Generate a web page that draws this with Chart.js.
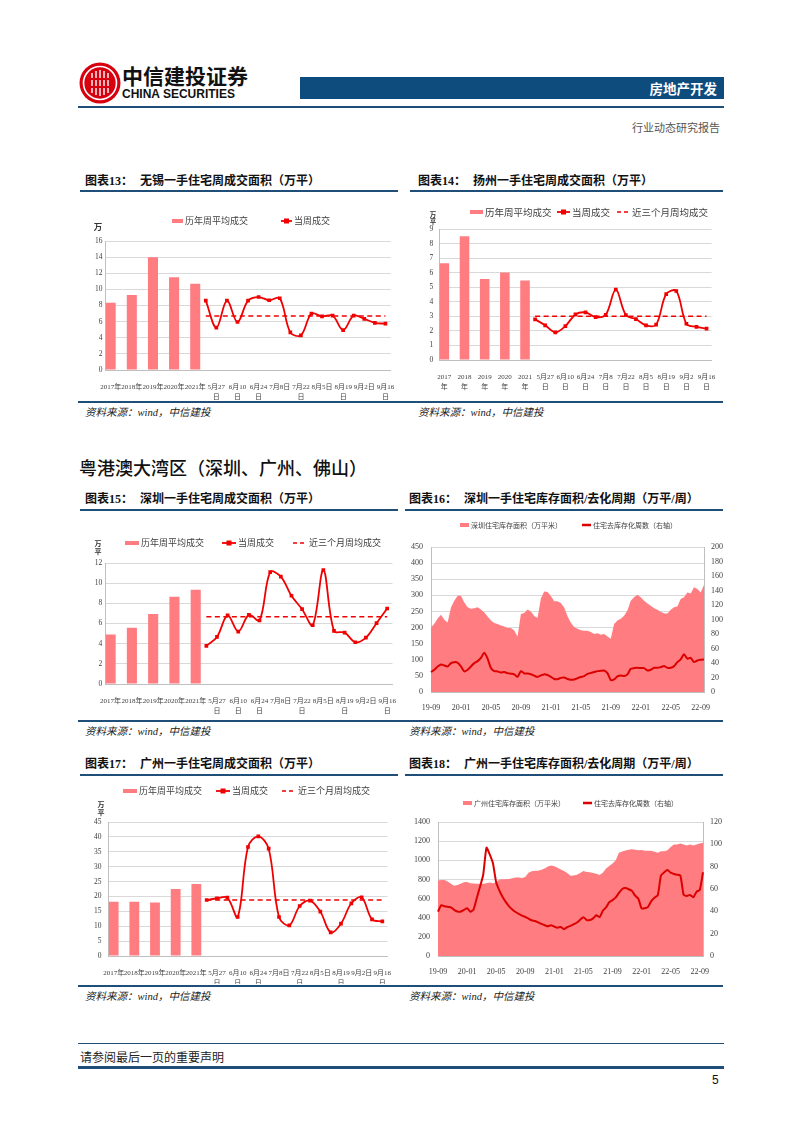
<!DOCTYPE html>
<html>
<head>
<meta charset="utf-8">
<script src="https://cdn.jsdelivr.net/npm/chart.js@4.4.0/dist/chart.umd.min.js"></script>
<style>
  body { margin: 0; background: #fff; }
  #page { position: relative; width: 802px; height: 1133px; overflow: hidden; background: #fff;
          font-family: "Noto Sans CJK SC", sans-serif; color: #111; }
  .t { position: absolute; white-space: nowrap; }
  .hr { position: absolute; background: #1f4e79; }
  .ttl { font-size: 12px; font-weight: bold; line-height: 16px; font-family: "Liberation Serif", "Noto Sans CJK SC", serif; }
  .ttl span { display: inline-block; width: 55px; }
  .src { font-size: 10.5px; font-style: italic; line-height: 14px; color: #222; font-family: "Liberation Serif", "Noto Sans CJK SC", serif; }
  canvas { position: absolute; }
</style>
</head>
<body>
<div id="page">
  <!-- header -->
  <svg style="position:absolute;left:79px;top:62px" width="42" height="42" viewBox="0 0 42 42">
    <circle cx="21" cy="21" r="20.5" fill="#d7000f"/>
    <circle cx="21" cy="21" r="16.5" fill="none" stroke="#fff" stroke-width="1.6"/>
    <path d="M13 11 V31 M17 9 V33 M21 8 V34 M25 9 V33 M29 11 V31" stroke="#fff" stroke-width="1.4" fill="none"/>
    <path d="M10 17 H32 M10 25 H32" stroke="#d7000f" stroke-width="2.2" fill="none"/>
  </svg>
  <div class="t" style="left:122px;top:63px;font-size:21px;font-weight:bold;line-height:24px;">中信建投证券</div>
  <div class="t" style="left:122px;top:87px;font-size:12px;font-weight:bold;line-height:14px;font-family:'Liberation Sans',sans-serif;">CHINA SECURITIES</div>
  <div class="hr" style="left:300px;top:77px;width:424px;height:22px;background:#0e4c7e;"></div>
  <div class="t" style="left:600px;width:117px;text-align:right;top:80px;font-size:13.5px;font-weight:bold;line-height:16px;color:#fff;">房地产开发</div>
  <div class="hr" style="left:78px;top:106px;width:646px;height:1.5px;"></div>
  <div class="t" style="left:600px;width:120px;text-align:right;top:119px;font-size:11px;line-height:16px;color:#555;">行业动态研究报告</div>

  <!-- row 1 -->
  <div class="t ttl" style="left:85px;top:173px;"><span>图表13：</span>无锡一手住宅周成交面积（万平）</div>
  <div class="t ttl" style="left:418px;top:173px;"><span>图表14：</span>扬州一手住宅周成交面积（万平）</div>
  <div class="hr" style="left:80px;top:190px;width:318px;height:1.5px;"></div>
  <div class="hr" style="left:410px;top:190px;width:313px;height:1.5px;"></div>
  <div class="hr" style="left:78px;top:401px;width:645px;height:1.5px;"></div>
  <div class="t src" style="left:85px;top:406px;">资料来源：wind，中信建投</div>
  <div class="t src" style="left:418px;top:406px;">资料来源：wind，中信建投</div>

  <div class="t" style="left:79px;top:456px;font-size:18px;font-weight:500;line-height:22px;">粤港澳大湾区（深圳、广州、佛山）</div>

  <!-- row 2 -->
  <div class="t ttl" style="left:85px;top:491px;"><span>图表15：</span>深圳一手住宅周成交面积（万平）</div>
  <div class="t ttl" style="left:409px;top:491px;"><span>图表16：</span>深圳一手住宅库存面积/去化周期（万平/周）</div>
  <div class="hr" style="left:80px;top:509px;width:318px;height:1.5px;"></div>
  <div class="hr" style="left:405px;top:509px;width:318px;height:1.5px;"></div>
  <div class="hr" style="left:78px;top:720px;width:645px;height:1.5px;"></div>
  <div class="t src" style="left:85px;top:725px;">资料来源：wind，中信建投</div>
  <div class="t src" style="left:409px;top:725px;">资料来源：wind，中信建投</div>

  <!-- row 3 -->
  <div class="t ttl" style="left:85px;top:756px;"><span>图表17：</span>广州一手住宅周成交面积（万平）</div>
  <div class="t ttl" style="left:409px;top:756px;"><span>图表18：</span>广州一手住宅库存面积/去化周期（万平/周）</div>
  <div class="hr" style="left:80px;top:774px;width:318px;height:1.5px;"></div>
  <div class="hr" style="left:405px;top:774px;width:318px;height:1.5px;"></div>
  <div class="hr" style="left:78px;top:985px;width:645px;height:1.5px;"></div>
  <div class="t src" style="left:85px;top:990px;">资料来源：wind，中信建投</div>
  <div class="t src" style="left:409px;top:990px;">资料来源：wind，中信建投</div>

  <!-- footer -->
  <div class="hr" style="left:78px;top:1043px;width:646px;height:1px;"></div>
  <div class="t" style="left:80px;top:1049px;font-size:12px;line-height:16px;color:#222;">请参阅最后一页的重要声明</div>
  <div class="hr" style="left:78px;top:1066px;width:646px;height:3px;"></div>
  <div class="t" style="left:712px;top:1072px;font-size:12px;line-height:16px;font-family:'Liberation Sans',sans-serif;">5</div>
</div>

<script>
// 周成交图的分类
const years = ['2017年', '2018年', '2019年', '2020年', '2021年'];
const weeks = ['5月20日', '5月27日', '6月3日', '6月10日', '6月17日', '6月24日', '7月1日', '7月8日', '7月15日',
               '7月22日', '7月29日', '8月5日', '8月12日', '8月19日', '8月26日', '9月2日', '9月9日', '9月16日'];

// 无锡
const wxYearAvg = [8.35, 9.3, 14.0, 11.5, 10.7];
const wxWeek = [8.6, 5.25, 8.6, 5.95, 8.6, 9.05, 8.65, 8.9, 4.67, 4.3, 7.0, 6.65, 6.75, 4.95, 6.75, 6.35, 5.85, 5.75];
const wxAvg3m = 6.7;
// 扬州
const yzYearAvg = [6.64, 8.51, 5.56, 6.02, 5.47];
const yzWeek = [2.79, 2.38, 1.9, 2.33, 3.13, 3.27, 2.95, 3.11, 4.83, 3.09, 2.81, 2.38, 2.43, 4.53, 4.74, 2.49, 2.27, 2.15];
const yzAvg3m = 3.0;
// 深圳
const szYearAvg = [4.9, 5.57, 6.93, 8.65, 9.35];
const szWeek = [3.78, 4.67, 6.8, 5.2, 6.86, 6.3, 11.1, 10.64, 8.75, 7.42, 5.83, 11.3, 5.27, 5.1, 4.14, 4.6, 6.03, 7.49];
const szAvg3m = 6.66;
// 广州
const gzYearAvg = [18.25, 18.25, 18.0, 22.5, 24.2];
const gzWeek = [18.8, 19.4, 19.6, 13.1, 36.6, 40.2, 36.06, 13.1, 10.3, 16.8, 18.6, 14.9, 7.95, 10.86, 17.7, 19.7, 12.3, 11.6];
const gzAvg3m = 18.8;

// 库存/去化周期（约两周一个点，19-09 起）
const tsTicks = ['19-09', '20-01', '20-05', '20-09', '21-01', '21-05', '21-09', '22-01', '22-05', '22-09'];
const szStock = [200, 212, 228, 240, 224, 216, 262, 283, 299, 299,
                 278, 263, 258, 260, 263, 256, 247, 234, 222, 214,
                 211, 206, 203, 199, 199, 191, 172, 242, 245, 256,
                 250, 236, 230, 290, 312, 310, 298, 282, 282, 276,
                 262, 235, 215, 202, 196, 192, 190, 190, 186, 180,
                 182, 178, 180, 172, 165, 211, 222, 227, 237, 253,
                 283, 294, 302, 294, 283, 275, 268, 260, 255, 249,
                 244, 244, 255, 263, 265, 289, 294, 309, 306, 325,
                 320, 309, 332];
const szCycle = [27.5, 30.7, 35.2, 38, 36.6, 35.2, 39.8, 41.2, 40.3, 35.2,
                 28.4, 30.7, 35.2, 39.8, 42.6, 47.1, 54, 46, 33, 28.8,
                 28.4, 27, 27.5, 26, 25.2, 24.3, 21, 28.8, 25.6, 25.6,
                 24.5, 22.5, 20.8, 23, 24.3, 23.5, 21, 18, 17.6, 19.5,
                 20, 18, 16.9, 17.2, 19, 20.6, 22, 25, 26.3, 27.5,
                 28.8, 29.2, 29.7, 26, 16.5, 17.4, 21.5, 22.9, 22, 24.3,
                 32, 33, 33.4, 33, 33, 29.7, 30.7, 33.4, 33.4, 34.3,
                 35.7, 33.4, 33.4, 35.7, 41.2, 45, 52, 46, 47.1, 41.2,
                 43.5, 44.4, 45];
const gzStock = [789, 793, 795, 778, 755, 735, 742, 755, 770, 772,
                 760, 757, 754, 754, 754, 761, 768, 761, 770, 800,
                 803, 803, 805, 812, 819, 821, 816, 826, 870, 886,
                 890, 891, 900, 915, 935, 946, 938, 922, 905, 888,
                 866, 839, 840, 850, 866, 889, 877, 874, 867, 860,
                 847, 870, 915, 940, 966, 1000, 1080, 1092, 1102, 1110,
                 1116, 1110, 1105, 1108, 1100, 1100, 1100, 1090, 1080, 1095,
                 1095, 1105, 1140, 1165, 1165, 1175, 1165, 1154, 1165, 1154,
                 1165, 1175, 1182];
const gzCycle = [39.7, 45.5, 44.5, 44, 43.6, 41.3, 39.8, 39.7, 41.2, 42.7,
                 39.7, 41.5, 52, 62, 73, 97, 91, 83, 66, 58.5,
                 52.8, 48.2, 44.5, 41.7, 39.4, 37.7, 36.2, 35, 33.5, 32,
                 31.3, 30.1, 28.7, 27.6, 26.6, 27.5, 26.3, 25.4, 26, 24,
                 25.8, 27, 28.5, 30, 32.5, 34.8, 32.2, 32.2, 33.7, 36.5,
                 34.8, 40.5, 43.6, 48.2, 50, 52.5, 56.5, 60, 60.8, 59.8,
                 58.3, 54, 51.3, 42.7, 42.7, 44, 49.2, 52.2, 54.4, 72,
                 74.9, 77, 74.6, 73.5, 72.8, 72, 55, 53.8, 54.7, 52.6,
                 57.5, 59.2, 75];

const PINK = '#ff7c80';
const RED = '#f00000';
const DARKRED = '#dc0000';
const tickFont = "'Liberation Serif','Noto Sans CJK SC',serif";
const plainNum = v => String(v);

// 图例和单位文字
const pageLegend = {
  id: 'pageLegend',
  afterDraw(chart, args, o) {
    const ctx = chart.ctx, ox = o.rect.x, oy = o.rect.y;
    ctx.save();
    ctx.textBaseline = 'middle';
    ctx.textAlign = 'left';
    o.items.forEach(it => {
      const x = it.x - ox, y = o.y - oy, w = o.sw;
      if (it.type === 'bar') {
        ctx.fillStyle = PINK;
        ctx.fillRect(x, y - 2, w, 4);
      } else if (it.type === 'mark') {
        ctx.strokeStyle = RED; ctx.lineWidth = 1.8;
        ctx.beginPath(); ctx.moveTo(x, y); ctx.lineTo(x + w, y); ctx.stroke();
        ctx.fillStyle = RED; ctx.fillRect(x + w / 2 - 2.5, y - 2.5, 5, 5);
      } else if (it.type === 'dash') {
        ctx.strokeStyle = RED; ctx.lineWidth = 1.5; ctx.setLineDash([4, 3]);
        ctx.beginPath(); ctx.moveTo(x, y); ctx.lineTo(x + w, y); ctx.stroke();
        ctx.setLineDash([]);
      } else if (it.type === 'thick') {
        ctx.strokeStyle = DARKRED; ctx.lineWidth = 2.5;
        ctx.beginPath(); ctx.moveTo(x, y); ctx.lineTo(x + w, y); ctx.stroke();
      }
      ctx.fillStyle = '#404040';
      ctx.font = o.size + "px 'Noto Sans CJK SC', sans-serif";
      ctx.fillText(it.text, x + w + 2, y);
    });
    if (o.unit) {
      ctx.fillStyle = '#333';
      ctx.textAlign = 'center';
      ctx.font = 'bold ' + o.unit.size + "px 'Noto Sans CJK SC', sans-serif";
      o.unit.lines.forEach((s, k) => ctx.fillText(s, o.unit.x - ox, o.unit.y - oy + k * o.unit.gap));
    }
    ctx.restore();
  }
};

function makeCanvas(rect) {
  const cv = document.createElement('canvas');
  cv.width = rect.w; cv.height = rect.h;
  cv.style.left = rect.x + 'px'; cv.style.top = rect.y + 'px';
  cv.style.width = rect.w + 'px'; cv.style.height = rect.h + 'px';
  document.getElementById('page').appendChild(cv);
  return cv;
}

function weeklyChart(rect, plot, d) {
  const cats = [];
  years.forEach((y, i) => { cats.push(y); if (i < years.length - 1) cats.push(''); });
  weeks.forEach(w => cats.push(w));
  const first = cats.length - weeks.length;
  const barData = cats.map(() => null);
  d.yearAvg.forEach((v, i) => { barData[i * 2] = v; });
  const weekData = cats.map(() => null);
  d.week.forEach((v, i) => { weekData[first + i] = v; });
  const avgData = cats.map((c, i) => i >= first ? d.avg3m : null);

  new Chart(makeCanvas(rect), {
    type: 'bar',
    data: {
      labels: cats,
      datasets: [
        { type: 'bar', data: barData, backgroundColor: PINK, barPercentage: 0.95, categoryPercentage: 1, order: 3 },
        { type: 'line', data: avgData, borderColor: RED, borderWidth: 1.5, borderDash: [5, 3.5], pointRadius: 0, order: 2 },
        { type: 'line', data: weekData, borderColor: RED, backgroundColor: RED, borderWidth: 1.8,
          pointStyle: 'rect', pointRadius: 2.6, pointBorderWidth: 0, tension: 0.35, order: 1 }
      ]
    },
    options: {
      responsive: false, animation: false, devicePixelRatio: 1,
      layout: { padding: { top: plot.t - rect.y, right: rect.x + rect.w - plot.r, left: 0, bottom: 0 } },
      plugins: {
        legend: { display: false }, tooltip: { enabled: false },
        pageLegend: { rect, y: d.legendY, size: d.legendSize, sw: d.sw, items: d.items, unit: d.unit }
      },
      scales: {
        x: {
          grid: { display: false },
          border: { color: '#bfbfbf' },
          ticks: {
            autoSkip: false, maxRotation: 0, minRotation: 0, padding: 4, color: '#404040',
            font: { size: 7, family: tickFont, lineHeight: 1.4 },
            callback(v, i) {
              const s = cats[i];
              if (i % 2 || !s) return '';
              if (d.splitAll || (s.indexOf('月') > 0 && s.length >= 5)) return [s.slice(0, -1), s.slice(-1)];
              return s;
            }
          },
          afterFit(s) { s.height = rect.y + rect.h - plot.b; }
        },
        y: {
          min: 0, max: d.max,
          grid: { color: '#d9d9d9', drawTicks: false },
          border: { color: '#bfbfbf' },
          ticks: { stepSize: d.step, padding: d.pad, color: '#404040', font: { size: 7.5, family: tickFont }, callback: plainNum },
          afterFit(s) { s.width = plot.l - rect.x; }
        }
      }
    },
    plugins: [pageLegend]
  });
}

function stockChart(rect, plot, d) {
  const labels = d.stock.map((v, i) => i % 9 === 0 ? tsTicks[i / 9] : '');
  new Chart(makeCanvas(rect), {
    type: 'line',
    data: {
      labels,
      datasets: [
        { data: d.stock, yAxisID: 'y', fill: 'origin', backgroundColor: PINK, borderColor: 'transparent',
          borderWidth: 0, pointRadius: 0, tension: 0, order: 2 },
        { data: d.cycle, yAxisID: 'y1', fill: false, borderColor: DARKRED, borderWidth: 2,
          pointRadius: 0, tension: 0.2, order: 1 }
      ]
    },
    options: {
      responsive: false, animation: false, devicePixelRatio: 1,
      layout: { padding: { top: plot.t - rect.y, left: 0, right: 0, bottom: 0 } },
      plugins: {
        legend: { display: false }, tooltip: { enabled: false },
        pageLegend: { rect, y: d.legendY, size: 7, sw: d.sw, items: d.items }
      },
      scales: {
        x: {
          grid: { display: false },
          border: { color: '#bfbfbf' },
          ticks: { autoSkip: false, maxRotation: 0, minRotation: 0, padding: 3, color: '#404040',
                   font: { size: 8, family: tickFont } },
          afterFit(s) { s.height = rect.y + rect.h - plot.b; }
        },
        y: {
          min: 0, max: d.max, position: 'left',
          grid: { color: '#d9d9d9', drawTicks: false },
          border: { color: '#bfbfbf' },
          ticks: { stepSize: d.step, padding: 8, color: '#404040', font: { size: 8, family: tickFont }, callback: plainNum },
          afterFit(s) { s.width = plot.l - rect.x; }
        },
        y1: {
          min: 0, max: d.max1, position: 'right',
          grid: { drawOnChartArea: false, drawTicks: false },
          border: { color: '#bfbfbf' },
          ticks: { stepSize: d.step1, padding: 7, color: '#404040', font: { size: 8, family: tickFont }, callback: plainNum },
          afterFit(s) { s.width = rect.x + rect.w - plot.r; }
        }
      }
    },
    plugins: [pageLegend]
  });
}

// 图表13 无锡
weeklyChart({ x: 80, y: 195, w: 320, h: 205 }, { l: 105.4, t: 241, r: 390.7, b: 370 }, {
  yearAvg: wxYearAvg, week: wxWeek, avg3m: wxAvg3m, max: 16, step: 2, pad: 3,
  legendY: 221, legendSize: 9, sw: 11,
  items: [{ type: 'bar', x: 172, text: '历年周平均成交' }, { type: 'mark', x: 281, text: '当周成交' }],
  unit: { lines: ['万'], x: 98, y: 227, size: 8.5, gap: 8 }
});

// 图表14 扬州
weeklyChart({ x: 410, y: 195, w: 312, h: 205 }, { l: 439.3, t: 229, r: 711.6, b: 360 }, {
  yearAvg: yzYearAvg, week: yzWeek, avg3m: yzAvg3m, max: 9, step: 1, pad: 6, splitAll: true,
  legendY: 212, legendSize: 9.5, sw: 13,
  items: [{ type: 'bar', x: 470, text: '历年周平均成交' }, { type: 'mark', x: 557, text: '当周成交' },
          { type: 'dash', x: 617, text: '近三个月周均成交' }],
  unit: { lines: ['万', '平'], x: 433, y: 215, size: 6.5, gap: 7 }
});

// 图表15 深圳
weeklyChart({ x: 80, y: 515, w: 320, h: 203 }, { l: 105.3, t: 563, r: 397, b: 684 }, {
  yearAvg: szYearAvg, week: szWeek, avg3m: szAvg3m, max: 12, step: 2, pad: 3,
  legendY: 543, legendSize: 9, sw: 14,
  items: [{ type: 'bar', x: 125, text: '历年周平均成交' }, { type: 'mark', x: 222, text: '当周成交' },
          { type: 'dash', x: 293, text: '近三个月周均成交' }],
  unit: { lines: ['万', '平'], x: 98, y: 543, size: 7, gap: 8 }
});

// 图表17 广州
weeklyChart({ x: 80, y: 780, w: 320, h: 204 }, { l: 108.5, t: 822, r: 387.5, b: 956 }, {
  yearAvg: gzYearAvg, week: gzWeek, avg3m: gzAvg3m, max: 45, step: 5, pad: 7,
  legendY: 791, legendSize: 9, sw: 14,
  items: [{ type: 'bar', x: 123, text: '历年周平均成交' }, { type: 'mark', x: 216, text: '当周成交' },
          { type: 'dash', x: 282, text: '近三个月周均成交' }],
  unit: { lines: ['万', '平'], x: 101, y: 804, size: 7, gap: 8 }
});

// 图表16 深圳库存
stockChart({ x: 400, y: 512, w: 325, h: 205 }, { l: 431, t: 547, r: 704, b: 692 }, {
  stock: szStock, cycle: szCycle, max: 450, step: 50, max1: 200, step1: 20,
  legendY: 525, sw: 9,
  items: [{ type: 'bar', x: 460, text: '深圳住宅库存面积（万平米）' }, { type: 'thick', x: 582, text: '住宅去库存化周数（右轴）' }]
});

// 图表18 广州库存
stockChart({ x: 400, y: 780, w: 325, h: 200 }, { l: 438, t: 822, r: 703, b: 956 }, {
  stock: gzStock, cycle: gzCycle, max: 1400, step: 200, max1: 120, step1: 20,
  legendY: 803, sw: 9,
  items: [{ type: 'bar', x: 463, text: '广州住宅库存面积（万平米）' }, { type: 'thick', x: 583, text: '住宅去库存化周数（右轴）' }]
});
</script>
</body>
</html>
